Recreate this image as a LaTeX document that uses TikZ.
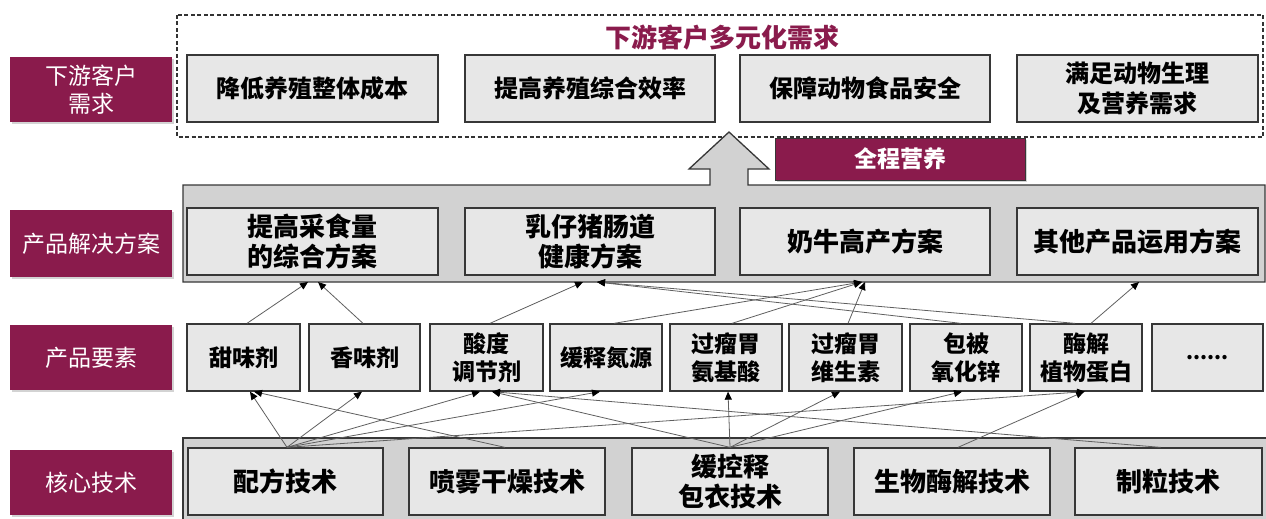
\documentclass[tikz,border=0pt]{standalone}
\usepackage{fontspec}
\setmainfont{Noto Sans CJK SC}
\usetikzlibrary{arrows.meta,shadows}
\definecolor{maroon}{RGB}{138,27,76}
\definecolor{boxfill}{RGB}{231,231,231}
\definecolor{bandfill}{RGB}{210,210,210}
\definecolor{edgec}{RGB}{55,55,55}
\definecolor{connc}{RGB}{95,95,95}
\newcommand\rb[7]{\node[#6, minimum width={(#4-#2)*1pt}, minimum height={(#5-#3)*1pt}] (#1) at ({(#2+#4)/2},{(#3+#5)/2}) {#7};}
\begin{document}
\begin{tikzpicture}[x=1pt,y=-1pt,
  lbl/.style={fill=maroon, text=white, inner sep=0pt, align=center,
    font=\fontsize{23}{28}\selectfont,
    drop shadow={opacity=0.35, shadow xshift=2pt, shadow yshift=-2pt}},
  gbox/.style={draw=edgec, line width=1.3pt, fill=boxfill, inner sep=0pt, align=center},
  dbox/.style={gbox, font=\bfseries\fontsize{24}{30}\selectfont},
  sbox/.style={gbox, font=\bfseries\fontsize{26}{30}\selectfont},
  ebox/.style={gbox, font=\bfseries\fontsize{23}{28}\selectfont},
  tbox/.style={gbox, font=\bfseries\fontsize{26}{30}\selectfont},
  band/.style={draw=edgec, line width=1.3pt, fill=bandfill},
  conn/.style={draw=connc, line width=0.8pt, -{Triangle[length=8pt,width=7pt,color=black]}}
]
\useasboundingbox (0,0) rectangle (1266,519);

% demand area
\draw[line width=1.2pt, draw=black!80, dash pattern=on 4pt off 2.5pt] (177,15) rectangle (1263,137);
\node[text=maroon, font=\bfseries\fontsize{26}{30}\selectfont] (title) at (722,38) {下游客户多元化需求};
\rb{d1}{187}{55}{438}{122}{dbox}{降低养殖整体成本}
\rb{d2}{465}{55}{715}{122}{dbox}{提高养殖综合效率}
\rb{d3}{740}{55}{990}{122}{dbox}{保障动物食品安全}
\rb{d4}{1017}{55}{1258}{122}{dbox}{满足动物生理\\及营养需求}

% solution band with arrow
\draw[band] (183,185) -- (710,185) -- (710,169) -- (689,169) -- (729,132) -- (769,169)
  -- (748,169) -- (748,185) -- (1265,185) -- (1265,282) -- (183,282) -- cycle;
\rb{qc}{775}{138}{1025}{180}{lbl, draw=edgec, line width=0.8pt, drop shadow={opacity=0}, font=\bfseries\fontsize{23}{28}\selectfont}{全程营养}
\rb{s1}{187}{208}{438}{275}{sbox}{提高采食量\\的综合方案}
\rb{s2}{465}{208}{715}{275}{sbox}{乳仔猪肠道\\健康方案}
\rb{s3}{740}{208}{990}{275}{sbox}{奶牛高产方案}
\rb{s4}{1017}{208}{1258}{275}{sbox}{其他产品运用方案}

% elements
\rb{e1}{187}{324}{300}{391}{ebox}{甜味剂}
\rb{e2}{309}{324}{420}{391}{ebox}{香味剂}
\rb{e3}{430}{324}{543}{391}{ebox}{酸度\\调节剂}
\rb{e4}{550}{324}{662}{391}{ebox}{缓释氮源}
\rb{e5}{670}{324}{782}{391}{ebox}{过瘤胃\\氨基酸}
\rb{e6}{789}{324}{902}{391}{ebox}{过瘤胃\\维生素}
\rb{e7}{910}{324}{1022}{391}{ebox}{包被\\氧化锌}
\rb{e8}{1030}{324}{1142}{391}{ebox}{酶解\\植物蛋白}
\rb{e9}{1152}{324}{1263}{391}{ebox, font=\bfseries\fontsize{20}{24}\selectfont}{......}

% tech band
\draw[band] (183,438) rectangle (1268,522);
\rb{t1}{188}{448}{383}{515}{tbox}{配方技术}
\rb{t2}{409}{448}{605}{515}{tbox}{喷雾干燥技术}
\rb{t3}{632}{448}{828}{515}{tbox}{缓控释\\包衣技术}
\rb{t4}{854}{448}{1050}{515}{tbox}{生物酶解技术}
\rb{t5}{1075}{448}{1262}{515}{tbox}{制粒技术}

% left labels
\rb{L1}{10}{57}{172}{122}{lbl}{下游客户\\需求}
\rb{L2}{10}{210}{172}{277}{lbl}{产品解决方案}
\rb{L3}{10}{325}{172}{390}{lbl}{产品要素}
\rb{L4}{10}{450}{172}{515}{lbl}{核心技术}

% tips at the solution band bottom
\coordinate (p1) at (308,282);
\coordinate (p2) at (318,282);
\coordinate (p3) at (583,282);
\coordinate (p4) at (597,282);
\coordinate (p5) at (862,282);
\coordinate (p6) at (865,282);
\coordinate (p7) at (1139,282);

% element -> solution
\draw[conn] ([xshift=3.5pt]e1.north) -- (p1);
\draw[conn] ([xshift=-1.5pt]e2.north) -- (p2);
\draw[conn] ([xshift=3.5pt]e3.north) -- (p3);
\draw[conn] ([xshift=-5pt]e7.north) -- (p4);
\draw[conn] ([xshift=-11pt]e8.north) -- (p4);
\draw[conn] ([xshift=8pt]e4.north) -- (p5);
\draw[conn] ([xshift=6pt]e5.north) -- (p5);
\draw[conn] ([xshift=2.5pt]e6.north) -- (p6);
\draw[conn] ([xshift=5pt]e8.north) -- (p7);

% tech -> element
\draw[conn] ([xshift=1.5pt]t1.north) -- ([xshift=6.5pt]e1.south);
\draw[conn] ([xshift=1.5pt]t1.north) -- ([xshift=-2.5pt]e2.south);
\draw[conn] ([xshift=1.5pt]t1.north) -- ([xshift=-6.5pt]e3.south);
\draw[conn] ([xshift=1.5pt]t1.north) -- ([xshift=-6pt]e4.south);
\draw[conn] ([xshift=1.5pt]t1.north) -- ([xshift=-1pt]e8.south);
\draw[conn] ([xshift=-2pt]t2.north) -- ([xshift=10.5pt]e1.south);
\draw[conn] (t3.north) -- ([xshift=5.5pt]e3.south);
\draw[conn] ([xshift=-8pt]t5.north) -- ([xshift=5.5pt]e3.south);
\draw[conn] (t3.north) -- ([xshift=2pt]e5.south);
\draw[conn] (t3.north) -- ([xshift=-5.5pt]e6.south);
\draw[conn] (t3.north) -- ([xshift=-4pt]e7.south);
\draw[conn] ([xshift=6pt]t4.north) -- ([xshift=-2pt]e8.south);
\end{tikzpicture}
\end{document}
